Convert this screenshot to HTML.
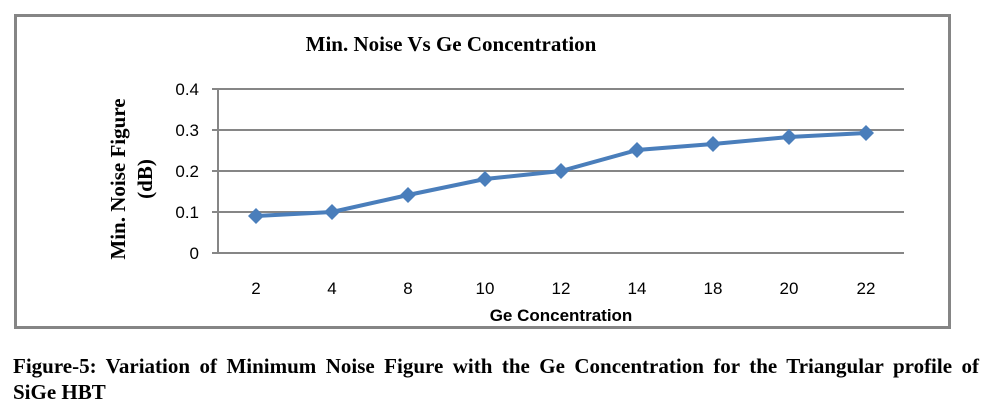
<!DOCTYPE html>
<html><head><meta charset="utf-8"><style>
body{margin:0;background:#fff;width:989px;height:409px;overflow:hidden;position:relative}
.cap{position:absolute;left:13px;width:966px;font:bold 21px "Liberation Serif",serif;line-height:26px;color:#000;white-space:nowrap}
.l1{top:353px;text-align:justify;text-align-last:justify}
.l2{top:379px}
</style></head><body>
<svg width="989" height="409" style="position:absolute;left:0;top:0">
<rect x="15.5" y="15.5" width="934" height="312" fill="none" stroke="#858585" stroke-width="3"/>
<text x="451" y="51" font-family="Liberation Serif" font-weight="bold" font-size="21" text-anchor="middle">Min. Noise Vs Ge Concentration</text>
<g stroke="#868686" stroke-width="2">
<line x1="212" y1="89" x2="904" y2="89"/><line x1="212" y1="130" x2="904" y2="130"/>
<line x1="212" y1="171" x2="904" y2="171"/><line x1="212" y1="212" x2="904" y2="212"/>
<line x1="212" y1="253" x2="904" y2="253"/><line x1="218" y1="89" x2="218" y2="253"/>
</g>
<g font-family="Liberation Sans" font-size="17" text-anchor="end">
<text x="199" y="95">0.4</text><text x="199" y="136">0.3</text><text x="199" y="177">0.2</text><text x="199" y="218">0.1</text><text x="199" y="259">0</text>
</g>
<g font-family="Liberation Sans" font-size="17" text-anchor="middle">
<text x="256" y="294">2</text><text x="332" y="294">4</text><text x="408" y="294">8</text><text x="485" y="294">10</text><text x="561" y="294">12</text><text x="637" y="294">14</text><text x="713" y="294">18</text><text x="789" y="294">20</text><text x="866" y="294">22</text>
</g>
<text x="561" y="321" font-family="Liberation Sans" font-weight="bold" font-size="17" text-anchor="middle">Ge Concentration</text>
<g font-family="Liberation Serif" font-weight="bold" font-size="21" text-anchor="middle">
<text transform="translate(125,179) rotate(-90)">Min. Noise Figure</text>
<text transform="translate(152,179) rotate(-90)">(dB)</text>
</g>
<polyline fill="none" stroke="#4a7ebb" stroke-width="4" points="256,216 332,212 408,195 485,179 561,171 637,150 713,144 789,137 866,133"/>
<g fill="#4a7ebb">
<path d="M256,208l8,8-8,8-8-8z"/><path d="M332,204l8,8-8,8-8-8z"/><path d="M408,187l8,8-8,8-8-8z"/><path d="M485,171l8,8-8,8-8-8z"/><path d="M561,163l8,8-8,8-8-8z"/><path d="M637,142l8,8-8,8-8-8z"/><path d="M713,136l8,8-8,8-8-8z"/><path d="M789,129l8,8-8,8-8-8z"/><path d="M866,125l8,8-8,8-8-8z"/>
</g>
</svg>
<div class="cap l1">Figure-5: Variation of Minimum Noise Figure with the Ge Concentration for the Triangular profile of</div>
<div class="cap l2">SiGe HBT</div>
</body></html>
